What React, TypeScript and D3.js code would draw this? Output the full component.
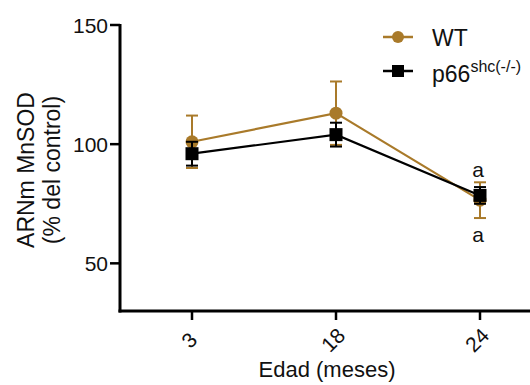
import * as d3 from "d3";

// Edad (meses) categories
const AGES = ["3", "18", "24"];
const WT_MEAN = [101, 113, 76.5];
const WT_ERR = [11, 13.3, 7.5];
const KO_MEAN = [96, 104, 78.5];
const KO_ERR = [5, 5, 3.5];
const Y_TICKS = [50, 100, 150];

const GOLD = "#a97a2a";
const FONT = "'Liberation Sans', Arial, Helvetica, sans-serif";

const W = 530;
const H = 385;
const M = { left: 120, top: 25, bottom: 311 };

export default function App() {
  const x = d3.scaleBand<string>().domain(AGES).range([M.left, M.left + 432]);
  const y = d3.scaleLinear().domain([30, 150]).range([M.bottom, M.top]);
  const cx = (a: string) => (x(a) ?? 0) + x.bandwidth() / 2;

  const line = d3
    .line<number>()
    .x((_, i) => cx(AGES[i]))
    .y((d) => y(d));

  const errBars = (means: number[], errs: number[], color: string) =>
    means.map((m, i) => {
      const xx = cx(AGES[i]);
      const top = y(m + errs[i]);
      const bot = y(m - errs[i]);
      return (
        <g key={`e${color}${i}`} stroke={color} strokeWidth={2}>
          <line x1={xx} x2={xx} y1={top} y2={bot} />
          <line x1={xx - 6} x2={xx + 6} y1={top} y2={top} />
          <line x1={xx - 6} x2={xx + 6} y1={bot} y2={bot} />
        </g>
      );
    });

  return (
    <svg width={W} height={H} style={{ position: "absolute", left: 0, top: 0, background: "#fff" }}>
      {/* axes */}
      <line x1={M.left} x2={M.left} y1={M.top - 1} y2={M.bottom + 1.5} stroke="#000" strokeWidth={3} />
      <line x1={M.left - 1.5} x2={W} y1={M.bottom} y2={M.bottom} stroke="#000" strokeWidth={3} />
      {Y_TICKS.map((t) => (
        <g key={t}>
          <line x1={M.left - 10} x2={M.left} y1={y(t)} y2={y(t)} stroke="#000" strokeWidth={2.5} />
          <text x={M.left - 12} y={y(t)} dy="0.36em" textAnchor="end" fontSize={21} fontFamily={FONT} fill="#111">
            {t}
          </text>
        </g>
      ))}
      {AGES.map((a) => (
        <g key={a}>
          <line x1={cx(a)} x2={cx(a)} y1={M.bottom} y2={M.bottom + 9} stroke="#000" strokeWidth={2.5} />
          <text
            x={cx(a) - 3}
            y={340}
            textAnchor="middle"
            dominantBaseline="central"
            fontSize={21}
            fontFamily={FONT}
            fill="#111"
            transform={`rotate(-45, ${cx(a) - 3}, 340)`}
          >
            {a}
          </text>
        </g>
      ))}
      <text x={327} y={377} textAnchor="middle" fontSize={22} fontFamily={FONT} fill="#111">
        Edad (meses)
      </text>
      <g transform="translate(34,170) rotate(-90)">
        <text x={0} y={0} textAnchor="middle" fontSize={23} fontFamily={FONT} fill="#111">
          ARNm MnSOD
        </text>
        <text x={0} y={26} textAnchor="middle" fontSize={23} fontFamily={FONT} fill="#111">
          (% del control)
        </text>
      </g>

      {/* WT series */}
      {errBars(WT_MEAN, WT_ERR, GOLD)}
      <path d={line(WT_MEAN) ?? ""} fill="none" stroke={GOLD} strokeWidth={2.2} />
      {WT_MEAN.map((m, i) => (
        <circle key={`w${i}`} cx={cx(AGES[i])} cy={y(m)} r={6.5} fill={GOLD} />
      ))}

      {/* p66 series */}
      {errBars(KO_MEAN, KO_ERR, "#000")}
      <path d={line(KO_MEAN) ?? ""} fill="none" stroke="#000" strokeWidth={2.2} />
      {KO_MEAN.map((m, i) => (
        <rect key={`k${i}`} x={cx(AGES[i]) - 6.5} y={y(m) - 6.5} width={13} height={13} fill="#000" />
      ))}

      {/* significance letters */}
      <text x={cx("24") - 2} y={177} textAnchor="middle" fontSize={21} fontFamily={FONT} fill="#111">a</text>
      <text x={cx("24") - 2} y={242} textAnchor="middle" fontSize={21} fontFamily={FONT} fill="#111">a</text>

      {/* legend */}
      <line x1={383} x2={413} y1={37} y2={37} stroke={GOLD} strokeWidth={2.5} />
      <circle cx={398} cy={37} r={6} fill={GOLD} />
      <text x={432} y={46} fontSize={23} fontFamily={FONT} fill="#111">WT</text>
      <line x1={383} x2={413} y1={71} y2={71} stroke="#000" strokeWidth={2.5} />
      <rect x={392} y={65} width={12} height={12} fill="#000" />
      <text x={432} y={82} fontSize={23} fontFamily={FONT} fill="#111">
        p66
        <tspan dy={-10} fontSize={16}>shc(-/-)</tspan>
      </text>
    </svg>
  );
}
